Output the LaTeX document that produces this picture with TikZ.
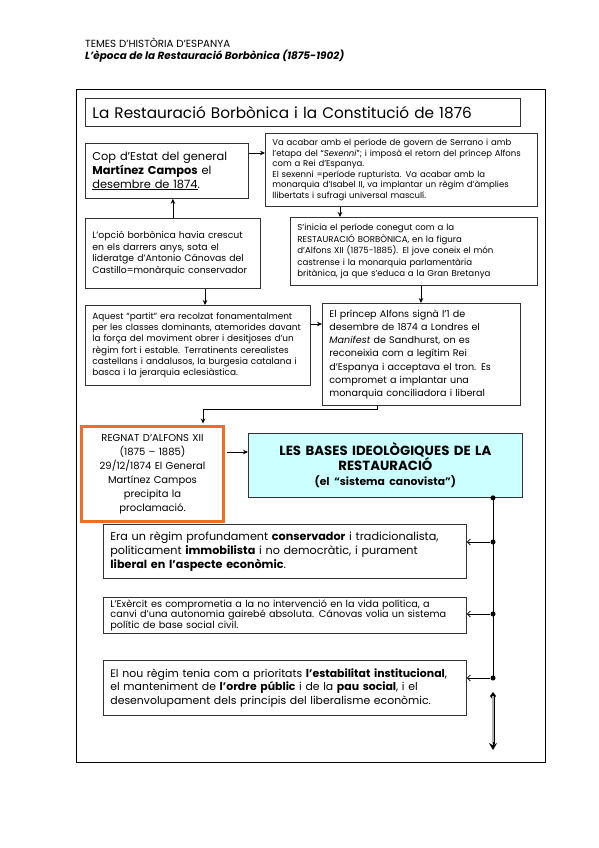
\documentclass[tikz,border=0pt]{standalone}
\usepackage{fontspec}
\setmainfont{Poppins}
\usetikzlibrary{arrows.meta,calc}
\definecolor{orng}{RGB}{242,108,35}
\definecolor{lcyan}{RGB}{204,255,255}
\newcommand\fsz[2]{\fontsize{#1}{#2}\selectfont}
\begin{document}
\begin{tikzpicture}[x=1pt,y=-1pt,
  box/.style={draw=black!80, line width=0.8pt, fill=white, align=left, inner xsep=7pt, inner ysep=2pt, anchor=north west},
  arr/.style={line width=0.8pt, -{Stealth[length=5pt,width=4.5pt]}},
  barb/.style={line width=0.8pt, -{Straight Barb[length=3pt,width=6pt]}},
  dot/.style={circle, fill, inner sep=0pt, minimum size=5pt}]
\useasboundingbox (0,0) rectangle (599,848);

% header
\node[anchor=base west, inner sep=0pt, font=\fsz{10.3}{12}] (h1) at (85,48) {TEMES D’HISTÒRIA D’ESPANYA};
\node[anchor=base west, inner sep=0pt, font=\fsz{10.4}{12}\bfseries\itshape] (h2) at (85,60) {L’època de la Restauració Borbònica (1875-1902)};

% frame
\node[draw, line width=1pt, inner sep=0pt, minimum width=469pt, minimum height=673pt, anchor=north west] (frame) at (76,89) {};

% title
\node[box, text width=421pt, minimum height=28pt, font=\fsz{15.3}{17}] (T) at (85,98) {La Restauració Borbònica i la Constitució de 1876};

\node[box, text width=149pt, minimum height=55pt, font=\fsz{11.4}{14}] (A) at (85,143)
{Cop d’Estat del general\\ \textbf{Martínez Campos} el\\ \underline{desembre de 1874}.};

\node[box, text width=258pt, minimum height=73pt, font=\fsz{8.5}{10.5}] (B) at (265,133)
{Va acabar amb el període de govern de Serrano i amb\\
l’etapa del “\textit{Sexenni}”; i imposà el retorn del príncep Alfons\\
com a Rei d’Espanya.\\
El sexenni =període rupturista. Va acabar amb la\\
monarquia d’Isabel II, va implantar un règim d’àmplies\\
llibertats i sufragi universal masculí.};

\node[box, text width=161pt, minimum height=70pt, font=\fsz{9.3}{11.5}] (C) at (85,218)
{L’opció borbònica havia crescut\\ en els darrers anys, sota el\\ lideratge d’Antonio Cánovas del\\ Castillo=monàrquic conservador};

\node[box, text width=211pt, minimum height=80pt, font=\fsz{8.9}{11.3}] (D) at (85,305)
{Aquest “partit” era recolzat fonamentalment\\
per les classes dominants, atemorides davant\\
la força del moviment obrer i desitjoses d’un\\
règim fort i estable. Terratinents cerealistes\\
castellans i andalusos, la burgesia catalana i\\
basca i la jerarquia eclesiàstica.};

\node[box, text width=233pt, minimum height=68pt, font=\fsz{8.6}{11.5}] (E) at (290,217)
{S’inicia el període conegut com a la\\
RESTAURACIÓ BORBÒNICA, en la figura\\
d’Alfons XII (1875-1885). El jove coneix el món\\
castrense i la monarquia parlamentària\\
britànica, ja que s’educa a la Gran Bretanya};

\node[box, text width=184pt, minimum height=102pt, font=\fsz{9.6}{13.3}] (F) at (322,303)
{El príncep Alfons signà l’1 de\\
desembre de 1874 a Londres el\\
\textit{Manifest} de Sandhurst, on es\\
reconeixia com a legítim Rei\\
d’Espanya i acceptava el tron. Es\\
compromet a implantar una\\
monarquia conciliadora i liberal};

\node[box, draw=orng, line width=3pt, align=center, text width=128pt, minimum height=95pt, font=\fsz{10}{14}] (G) at (80,425)
{REGNAT D’ALFONS XII\\ (1875 – 1885)\\ 29/12/1874 El General\\ Martínez Campos\\ precipita la\\ proclamació.};

\node[box, fill=lcyan, align=center, text width=260pt, minimum height=64pt, font=\fsz{13.3}{15}\bfseries] (H) at (248,433)
{LES BASES IDEOLÒGIQUES DE LA\\ RESTAURACIÓ\\ {\fsz{10.8}{13}(el “sistema canovista”)}};

\node[box, text width=349pt, minimum height=54pt, font=\fsz{11.2}{14}] (I) at (103,524)
{Era un règim profundament \textbf{conservador} i tradicionalista,\\
políticament \textbf{immobilista} i no democràtic, i purament\\
\textbf{liberal en l’aspecte econòmic}.};

\node[box, text width=349pt, minimum height=36pt, font=\fsz{9.7}{10.4}] (J) at (103,597)
{L’Exèrcit es comprometia a la no intervenció en la vida política, a\\
canvi d’una autonomia gairebé absoluta. Cánovas volia un sistema\\
polític de base social civil.};

\node[box, text width=349pt, minimum height=55pt, font=\fsz{10.9}{13.5}] (K) at (103,660)
{El nou règim tenia com a prioritats \textbf{l’estabilitat institucional},\\
el manteniment de \textbf{l’ordre públic} i de la \textbf{pau social}, i el\\
desenvolupament dels principis del liberalisme econòmic.};

% connectors
\coordinate (ab) at (0,153);
\draw[arr] (A.east |- ab) -- (B.west |- ab);
\draw[arr] (C.north) -- (C.north |- A.south);
\coordinate (cd) at (205,0);
\draw[arr] (C.south -| cd) -- (D.north -| cd);
\coordinate (be) at (340,0);
\draw[arr] (B.south -| be) -- (E.north -| be);
\coordinate (ef) at (421,0);
\draw[arr] (E.south -| ef) -- (F.north -| ef);
\coordinate (df) at (0,324);
\draw[arr] (D.east |- df) -- (F.west |- df);
\coordinate (fg) at (377,409);
\coordinate (fg2) at (203,409);
\draw[arr] (F.south -| fg) -- (fg) -- (fg2) -- ($(G.north -| fg2)+(0,-1.5)$);
\coordinate (gh) at (0,452);
\draw[arr] ($(G.east |- gh)+(1.5,0)$) -- (H.west |- gh);

\coordinate (spine) at (493,0);
\coordinate (d1) at (493,542);
\coordinate (d2) at (493,614);
\coordinate (d3) at (493,678);
\draw[line width=0.8pt] (H.south -| spine) -- (d3);
\node[dot] (d0) at (H.south -| spine) {};
\node[dot] (n1) at (d1) {};
\node[dot] (n2) at (d2) {};
\node[dot] (n3) at (d3) {};
\draw[barb] (n1) -- (I.east |- d1);
\draw[barb] (n2) -- (J.east |- d2);
\draw[barb] (n3) -- (K.east |- d3);

\coordinate (d4) at (493,696);
\coordinate (d5) at (493,750);
\fill (d4) +(0,-4) -- +(3,0) -- +(0,4) -- +(-3,0) -- cycle;
\draw[line width=0.6pt, double=gray!60, double distance=1.8pt] (d4) -- ($(d5)+(0,-6)$);
\draw[line width=0.8pt, -{Stealth[length=7pt,width=8pt]}] ($(d5)+(0,-8)$) -- (d5);
\end{tikzpicture}
\end{document}
